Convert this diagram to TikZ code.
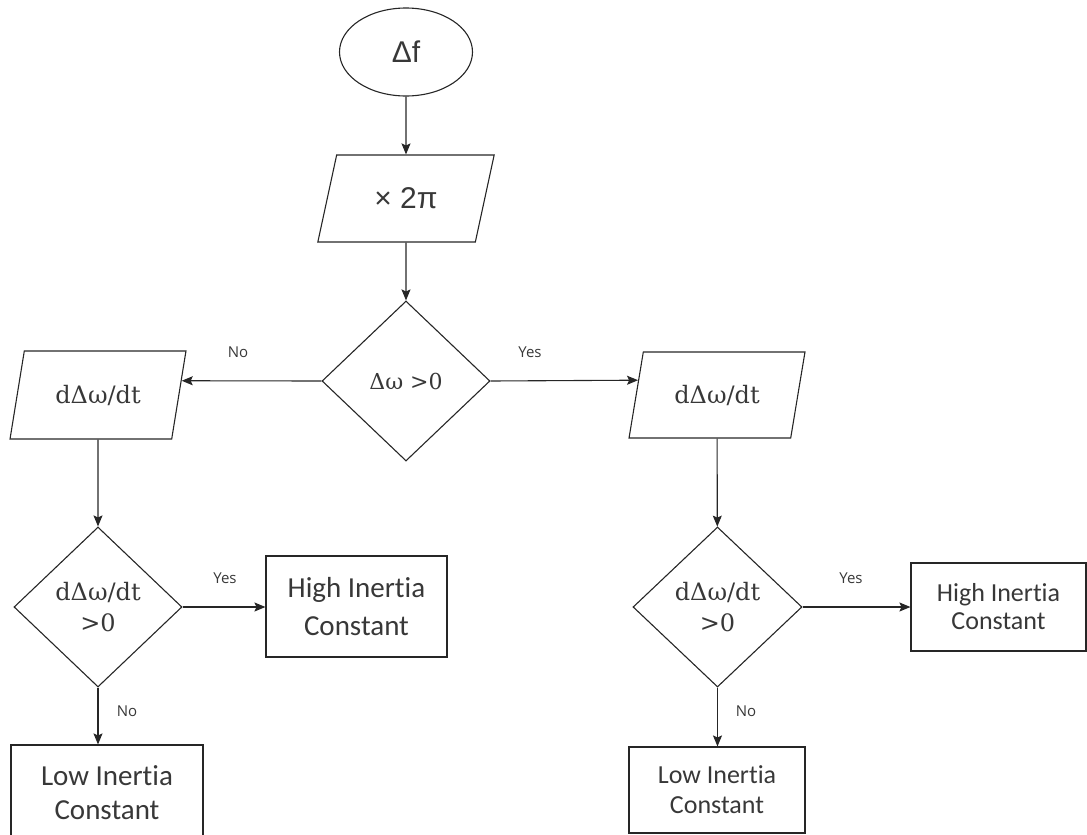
\documentclass[tikz,border=0pt]{standalone}
\usepackage{fontspec}
\usetikzlibrary{shapes.geometric,arrows.meta,calc}
\newfontfamily\arialf{Liberation Sans}
\newfontfamily\labf{Open Sans}
\newfontfamily\boxf[RawFeature=-liga]{Carlito}
\newfontfamily\mathf{DejaVu Serif}
\definecolor{ln}{HTML}{262626}
\tikzset{
  shp/.style={draw=ln, line width=1.1pt, inner sep=0pt, align=center, text=black!78},
  para/.style={shp, trapezium, trapezium left angle=68, trapezium right angle=112,
    trapezium stretches=true, minimum width=177pt, minimum height=87pt},
  dia/.style={shp, diamond, minimum width=168pt, minimum height=160pt},
  boxx/.style={shp, rectangle},
  arr/.style={draw=ln, line width=1.1pt, -{Stealth[length=11pt,width=9pt,inset=2pt]}},
  lab/.style={font=\labf\fontsize{15}{17}\selectfont, text=black!78, inner sep=0pt}
}
\begin{document}
\begin{tikzpicture}[x=1pt,y=-1pt]
\useasboundingbox (0,0) rectangle (1087,835);
% top
\node[shp, ellipse, minimum width=133pt, minimum height=88pt, font=\arialf\fontsize{30}{34}\selectfont] (e) at (406,52) {Δf};
\node[para, font=\arialf\fontsize{30}{34}\selectfont] (p1) at (406,198.5) {× 2π};
\node[dia, font=\mathf\fontsize{22}{25}\selectfont] (d1) at (406,381) {Δω >0};
% left branch
\node[para, minimum width=176pt, minimum height=88pt, font=\mathf\fontsize{24}{27}\selectfont] (pl) at (98,395) {dΔω/dt};
\node[dia, font=\mathf\fontsize{24}{31}\selectfont] (dl) at (98,607) {dΔω/dt\\>0};
\node[boxx, minimum width=181pt, minimum height=101pt, font=\boxf\fontsize{29}{38}\selectfont] (hl) at (356.5,606.5) {High Inertia\\Constant};
\node[boxx, minimum width=192pt, minimum height=96pt, font=\boxf\fontsize{29}{34}\selectfont] (ll) at (107,793) {Low Inertia\\Constant};
% right branch
\node[para, minimum width=176pt, minimum height=86pt, font=\mathf\fontsize{24}{27}\selectfont] (pr) at (717,395) {dΔω/dt};
\node[dia, minimum width=169pt, font=\mathf\fontsize{24}{31}\selectfont] (dr) at (717.5,607) {dΔω/dt\\>0};
\node[boxx, minimum width=175pt, minimum height=88pt, font=\boxf\fontsize{26}{28}\selectfont] (hr) at (998.5,607) {High Inertia\\Constant};
\node[boxx, minimum width=176pt, minimum height=86pt, font=\boxf\fontsize{26}{30}\selectfont] (lr) at (717,790) {Low Inertia\\Constant};
% connectors
\draw[arr] (e) -- (p1);
\draw[arr] (p1) -- (d1);
\draw[arr] (d1.west) -- ($(pl.top right corner)!0.34!(pl.bottom right corner)$);
\draw[arr] (d1.east) -- ($(pr.top left corner)!0.33!(pr.bottom left corner)$);
\draw[arr] (pl) -- (dl);
\draw[arr] (dl.east) -- (dl.east -| hl.west);
\draw[arr] (dl) -- (dl |- ll.north);
\draw[arr] (pr) -- (dr);
\draw[arr] (dr.east) -- (dr.east -| hr.west);
\draw[arr] (dr) -- (dr |- lr.north);
% labels
\node[lab] (n1) at (238,352) {No};
\node[lab] (y1) at (530,352) {Yes};
\node[lab] (y2) at (225,578) {Yes};
\node[lab] (n2) at (127,711) {No};
\node[lab] (y3) at (851,578) {Yes};
\node[lab] (n3) at (746,711) {No};
\end{tikzpicture}
\end{document}
